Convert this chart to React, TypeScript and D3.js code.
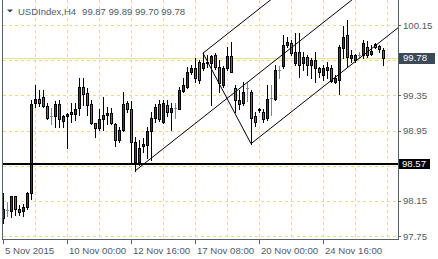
import React from "react";
import * as d3 from "d3";

const W = 438;
const H = 259;

const opens = [
  97.95, 98.05, 98.04, 98.2, 98.06, 98.03, 98.08, 98.24, 99.26, 99.31,
  99.33, 99.23, 99.11, 99.11, 99.25, 99.06, 99.11, 99.14, 99.14, 99.21,
  99.45, 99.38, 99.25, 99.03, 98.98, 99.08, 99.13, 99.15, 99.02, 98.84,
  98.96, 99.26, 99.2, 98.59, 98.59, 98.77, 98.79, 98.95, 99.09, 99.25,
  99.05, 99.24, 99.16, 99.21, 99.2, 99.4, 99.45, 99.62, 99.66, 99.73,
  99.66, 99.72, 99.72, 99.81, 99.67, 99.47, 99.66, 99.8, 99.43, 99.3,
  99.26, 99.43, 99.39, 99.12, 99.18, 99.16, 99.09, 99.32, 99.31, 99.64,
  99.68, 99.92, 99.95, 99.72, 99.84, 99.72, 99.79, 99.7, 99.75, 99.66,
  99.58, 99.64, 99.66, 99.5, 99.53, 99.89, 100.04, 99.78, 99.75, 99.81,
  99.81, 99.9, 99.82, 99.93, 99.91, 99.87,
];
const highs = [
  98.24, 98.14, 98.21, 98.21, 98.1, 98.11, 98.25, 99.3, 99.47, 99.41,
  99.41, 99.26, 99.21, 99.28, 99.3, 99.13, 99.15, 99.26, 99.26, 99.55,
  99.55, 99.43, 99.3, 99.04, 99.19, 99.33, 99.22, 99.21, 99.04, 98.99,
  99.39, 99.29, 99.28, 98.88, 98.84, 98.87, 98.99, 99.16, 99.25, 99.3,
  99.3, 99.3, 99.26, 99.26, 99.45, 99.55, 99.67, 99.7, 99.78, 99.75,
  99.83, 99.81, 99.81, 99.83, 99.75, 99.68, 99.9, 99.96, 99.47, 99.41,
  99.5, 99.5, 99.41, 99.16, 99.21, 99.19, 99.47, 99.47, 99.7, 99.68,
  100.04, 100.01, 99.98, 100.06, 100.06, 99.84, 99.81, 99.78, 99.84, 99.67,
  99.7, 99.73, 99.7, 99.58, 99.92, 100.14, 100.21, 99.87, 99.82, 99.84,
  99.98, 99.97, 99.92, 99.95, 99.92, 99.89,
];
const lows = [
  97.9, 97.98, 97.97, 97.99, 97.99, 97.98, 98.06, 98.17, 99.22, 99.23,
  99.22, 99.08, 99.02, 98.99, 98.99, 98.99, 98.75, 99.05, 99.07, 99.13,
  99.24, 99.13, 99.02, 98.88, 98.96, 98.96, 99.02, 99.02, 98.77, 98.82,
  98.94, 99.16, 98.59, 98.49, 98.56, 98.71, 98.64, 98.62, 99.05, 99.06,
  99.04, 99.11, 98.96, 99.09, 99.19, 99.39, 99.43, 99.59, 99.5, 99.49,
  99.64, 99.67, 99.24, 99.65, 99.39, 99.45, 99.64, 99.61, 99.16, 99.19,
  99.24, 99.28, 98.8, 99.0, 99.16, 99.05, 99.07, 99.13, 99.3, 99.55,
  99.66, 99.9, 99.81, 99.7, 99.56, 99.64, 99.58, 99.55, 99.5, 99.56,
  99.53, 99.55, 99.5, 99.49, 99.36, 99.78, 99.67, 99.73, 99.73, 99.78,
  99.78, 99.79, 99.81, 99.89, 99.84, 99.7,
];
const closes = [
  98.06, 98.05, 98.2, 98.06, 98.02, 98.08, 98.24, 99.25, 99.31, 99.26,
  99.23, 99.09, 99.11, 99.25, 99.08, 99.11, 99.14, 99.16, 99.2, 99.45,
  99.36, 99.24, 99.03, 98.98, 99.08, 99.13, 99.15, 99.04, 98.84, 98.96,
  99.25, 99.19, 98.82, 98.82, 98.75, 98.8, 98.95, 99.09, 99.22, 99.08,
  99.26, 99.16, 99.21, 99.21, 99.41, 99.47, 99.62, 99.66, 99.55, 99.53,
  99.72, 99.73, 99.8, 99.67, 99.49, 99.66, 99.8, 99.62, 99.3, 99.25,
  99.39, 99.43, 99.09, 99.05, 99.19, 99.08, 99.31, 99.32, 99.64, 99.64,
  99.92, 99.96, 99.83, 99.84, 99.7, 99.79, 99.7, 99.75, 99.66, 99.61,
  99.66, 99.67, 99.51, 99.55, 99.9, 100.01, 99.79, 99.81, 99.81, 99.81,
  99.95, 99.81, 99.85, 99.9, 99.88, 99.78,
];

const timeLabels = ["5 Nov 2015", "10 Nov 00:00", "12 Nov 16:00", "17 Nov 08:00", "20 Nov 00:00", "24 Nov 16:00"];
const timeLabelBars = [0, 16, 32, 48, 64, 80];
const gridBars = [8, 16, 24, 32, 40, 48, 56, 64, 72, 80, 88, 96];
const priceTicks = [97.75, 98.15, 98.55, 98.95, 99.35, 99.75, 100.15];
const bidPrice = 99.78;
const levelPrice = 98.57;
const pitchforkBars = [33, 50, 62];
const pitchforkPrices = [98.49, 99.83, 98.8];
const symbolText = "USDIndex,H4";
const headerValues = ["99.87", "99.89", "99.70", "99.78"];

const FONT = "'Liberation Sans', Arial, sans-serif";
const TEXT = "#4b5b6c";
const GRID = "#e8dc84";
const BULL = "#3b4046";
const BEAR = "#d63a3a";
const DOJI = "#7a8896";

const PLOT_L = 2;
const PLOT_R = 398;
const PLOT_B = 239;

export default function App() {
  const x = d3.scaleLinear().domain([0, 95]).range([3, 383]);
  const y = d3.scaleLinear().domain([97.75, 100.15]).range([236, 25]);
  const px = (v: number) => Math.round(v) + 0.5;

  const candles = opens.map((o, i) => {
    const c = closes[i];
    const cx = Math.round(x(i));
    const yh = Math.round(y(highs[i]));
    const yl = Math.round(y(lows[i]));
    const top = Math.round(y(Math.max(o, c)));
    const bot = Math.round(y(Math.min(o, c)));
    if (o === c) {
      return (
        <g key={i} stroke={DOJI} shapeRendering="crispEdges">
          <line x1={cx + 0.5} x2={cx + 0.5} y1={yh} y2={yl + 1} />
          <line x1={cx - 1} x2={cx + 2} y1={top + 0.5} y2={top + 0.5} />
        </g>
      );
    }
    return (
      <g key={i} shapeRendering="crispEdges">
        <line x1={cx + 0.5} x2={cx + 0.5} y1={yh} y2={yl + 1} stroke="#000" />
        <rect
          x={cx - 0.5}
          y={top + 0.5}
          width={2}
          height={Math.max(1, bot - top)}
          fill={c > o ? BULL : BEAR}
          stroke="#000"
        />
      </g>
    );
  });

  // Andrews pitchfork
  const pts = pitchforkBars.map((b, k) => [x(b), y(pitchforkPrices[k])]);
  const mid = [(pts[1][0] + pts[2][0]) / 2, (pts[1][1] + pts[2][1]) / 2];
  const slope = (mid[1] - pts[0][1]) / (mid[0] - pts[0][0]);
  const ext = (p: number[]) => [PLOT_R, p[1] + slope * (PLOT_R - p[0])];
  const forkLines = [
    [pts[0], ext(pts[0])],
    [pts[1], ext(pts[1])],
    [pts[2], ext(pts[2])],
    [pts[1], pts[2]],
  ];
  const lineGen = d3.line();

  const yBid = y(bidPrice);
  const yLevel = y(levelPrice);
  // tick labels hidden behind the price boxes are not drawn
  const shownTicks = priceTicks.filter(
    (p) => Math.abs(y(p) - yBid) > 9 && Math.abs(y(p) - yLevel) > 9
  );

  return (
    <svg
      width={W}
      height={H}
      style={{ position: "absolute", left: 0, top: 0, background: "#fff" }}
      fontFamily={FONT}
    >
      <defs>
        <clipPath id="plot">
          <rect x={PLOT_L} y={0} width={PLOT_R - PLOT_L} height={PLOT_B} />
        </clipPath>
      </defs>
      <rect width={W} height={H} fill="#fff" />
      {/* grid */}
      <g stroke={GRID} strokeDasharray="3,3" shapeRendering="crispEdges">
        {priceTicks.map((p) => (
          <line key={p} x1={PLOT_L + 1} x2={PLOT_R} y1={px(y(p))} y2={px(y(p))} />
        ))}
        {gridBars.map((b) => (
          <line key={b} x1={px(x(b))} x2={px(x(b))} y1={0} y2={PLOT_B} />
        ))}
      </g>
      {/* bid line */}
      <line x1={PLOT_L} x2={PLOT_R} y1={px(yBid)} y2={px(yBid)} stroke="#eee08a" shapeRendering="crispEdges" />
      <g clipPath="url(#plot)">
        {candles}
        {forkLines.map((l, k) => (
          <path key={k} d={lineGen(l as [number, number][]) || ""} stroke="#000" fill="none" strokeWidth={1} />
        ))}
      </g>
      {/* level line */}
      <line x1={PLOT_L} x2={PLOT_R} y1={Math.round(yLevel)} y2={Math.round(yLevel)} stroke="#000" strokeWidth={2} shapeRendering="crispEdges" />
      {/* frame */}
      <g stroke="#55606b" shapeRendering="crispEdges">
        <line x1={PLOT_L + 0.5} x2={PLOT_L + 0.5} y1={0} y2={PLOT_B + 1} />
        <line x1={PLOT_R + 0.5} x2={PLOT_R + 0.5} y1={0} y2={PLOT_B + 1} />
        <line x1={PLOT_L} x2={PLOT_R + 1} y1={PLOT_B + 0.5} y2={PLOT_B + 0.5} />
        {priceTicks.map((p) => (
          <line key={p} x1={PLOT_R} x2={PLOT_R + 3} y1={px(y(p))} y2={px(y(p))} />
        ))}
        {timeLabelBars.map((b) => (
          <line key={b} x1={px(x(b))} x2={px(x(b))} y1={PLOT_B} y2={PLOT_B + 5} />
        ))}
      </g>
      {/* price labels */}
      <g fontSize={9.6} fill={TEXT}>
        {shownTicks.map((p) => (
          <text key={p} x={403} y={y(p) + 3.5}>
            {p.toFixed(2)}
          </text>
        ))}
      </g>
      <rect x={399} y={Math.round(yBid) - 5} width={36} height={11} fill="#3d4a56" />
      <text x={403} y={yBid + 3.5} fontSize={9.6} fill="#fff">
        {bidPrice.toFixed(2)}
      </text>
      <rect x={399} y={Math.round(yLevel) - 5} width={31} height={10} fill="#000" />
      <text x={402} y={yLevel + 3.5} fontSize={9.6} fill="#fff">
        {levelPrice.toFixed(2)}
      </text>
      {/* time labels */}
      <g fontSize={9.6} fill={TEXT}>
        {timeLabelBars.map((b, k) => (
          <text key={b} x={Math.round(x(b)) + 2} y={254}>
            {timeLabels[k]}
          </text>
        ))}
      </g>
      {/* header */}
      <path d="M7,9.5 L13,9.5 L10,12.5 Z" fill="#3a424a" />
      <text x={18} y={14.5} fontSize={9.5} fill={TEXT}>
        {symbolText}
        <tspan dx={6}>{headerValues.join(" ")}</tspan>
      </text>
    </svg>
  );
}
